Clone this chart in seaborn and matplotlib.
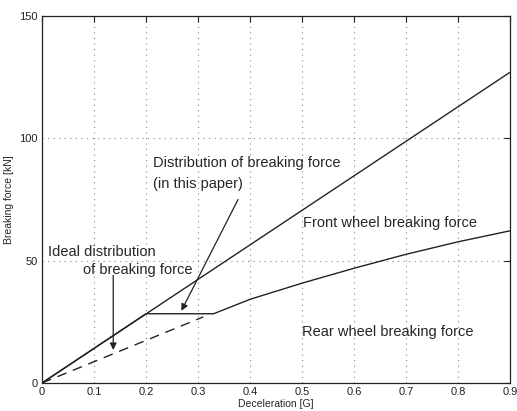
import matplotlib
matplotlib.use("Agg")
import matplotlib.pyplot as plt
import seaborn as sns
import pandas as pd

# Data
total_x = [0.0, 0.9]
total_y = [0.0, 127.0]
rear_x = [0.0, 0.2, 0.33, 0.4, 0.5, 0.6, 0.7, 0.8, 0.9]
rear_y = [0.0, 28.3, 28.3, 34.2, 40.8, 46.9, 52.6, 57.7, 62.2]
ideal_x = [0.0, 0.31]
ideal_y = [0.0, 27.0]
x_ticks = [0, 0.1, 0.2, 0.3, 0.4, 0.5, 0.6, 0.7, 0.8, 0.9]
x_tick_labels = ["0", "0.1", "0.2", "0.3", "0.4", "0.5", "0.6", "0.7", "0.8", "0.9"]
y_ticks = [0, 50, 100, 150]
y_tick_labels = ["0", "50", "100", "150"]

sns.set_style("white")
plt.rcParams['font.family'] = ['Liberation Sans', 'DejaVu Sans']

fig = plt.figure(figsize=(5.17, 4.11), dpi=100)
ax = fig.add_axes([42/517, (411-383)/411, 468/517, 367/411])

df_total = pd.DataFrame({"x": total_x, "y": total_y})
df_rear = pd.DataFrame({"x": rear_x, "y": rear_y})
df_ideal = pd.DataFrame({"x": ideal_x, "y": ideal_y})

sns.lineplot(data=df_total, x="x", y="y", ax=ax, color="#222222", lw=1.0, sort=False)
sns.lineplot(data=df_rear, x="x", y="y", ax=ax, color="#222222", lw=1.0, sort=False)
sns.lineplot(data=df_ideal, x="x", y="y", ax=ax, color="#222222", lw=1.0, sort=False,
             dashes=False, linestyle=(0, (7, 5)))

ax.set_xlim(0, 0.9)
ax.set_ylim(0, 150)
ax.set_xticks(x_ticks)
ax.set_xticklabels(x_tick_labels)
ax.set_yticks(y_ticks)
ax.set_yticklabels(y_tick_labels)
ax.tick_params(direction="in", length=4, width=0.8, labelsize=8, colors="#222222",
               top=True, right=True, pad=3)
ax.grid(True, linestyle=(0, (1, 4)), color="#888888", lw=0.8)
for s in ax.spines.values():
    s.set_color("#222222")
    s.set_linewidth(0.9)

ax.set_xlabel("Deceleration [G]", fontsize=7.5, labelpad=1)
ax.set_ylabel("Breaking force [kN]", fontsize=7.5, labelpad=4)

tf = 10.5
ax.text(0.213, 90, "Distribution of breaking force", fontsize=tf, va="center", ha="left")
ax.text(0.213, 81.5, "(in this paper)", fontsize=tf, va="center", ha="left")
ax.text(0.502, 65.4, "Front wheel breaking force", fontsize=tf, va="center", ha="left")
ax.text(0.50, 21, "Rear wheel breaking force", fontsize=tf, va="center", ha="left")
ax.text(0.012, 53.7, "Ideal distribution", fontsize=tf, va="center", ha="left")
ax.text(0.079, 46.2, "of breaking force", fontsize=tf, va="center", ha="left")

arrowprops = dict(arrowstyle="-|>", color="#222222", lw=0.9, mutation_scale=10, shrinkA=0, shrinkB=0)
ax.annotate("", xy=(0.137, 13.5), xytext=(0.137, 44), arrowprops=arrowprops)
ax.annotate("", xy=(0.268, 29.5), xytext=(0.377, 75), arrowprops=arrowprops)

fig.savefig("out.png", dpi=100)
